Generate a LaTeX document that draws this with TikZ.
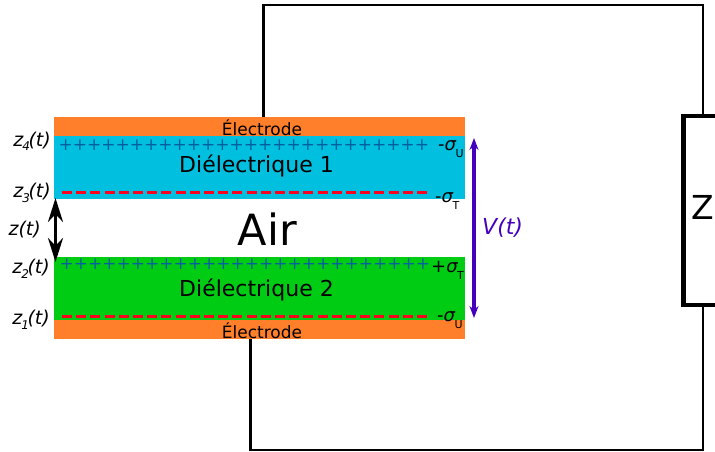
\documentclass[tikz,border=0pt]{standalone}
\usepackage{fontspec}
\setmainfont{DejaVu Sans}
\usetikzlibrary{arrows.meta}
\definecolor{orng}{HTML}{FF7F2A}
\definecolor{cyn}{HTML}{00BFDF}
\definecolor{grn}{HTML}{00CC14}
\definecolor{plusblue}{HTML}{005F9F}
\definecolor{dashred}{HTML}{FF0020}
\definecolor{purp}{HTML}{4400BB}
\tikzset{
  x=1pt,y=-1pt,
  layer/.style={minimum width=411pt,inner sep=0pt,outer sep=0pt,anchor=north west},
  wire/.style={line width=2.8pt,line join=miter},
  lbl/.style={inner sep=0pt,font=\fontsize{22}{22}\selectfont},
  elbl/.style={inner sep=0pt,font=\fontsize{17}{17}\selectfont},
  zlab/.style={inner sep=0pt,anchor=base east,font=\itshape\fontsize{19}{20}\selectfont},
  sig/.style={inner sep=0pt,anchor=base west,font=\fontsize{18}{18}\selectfont},
  plusrow/.style={inner sep=0pt,text=plusblue,font=\fontsize{17}{17}\selectfont},
  chargeline/.style={dashred,line width=3pt,dash pattern=on 10pt off 4.2pt},
  gaparrow/.style={line width=3pt,{Stealth[length=24pt,width=15pt]}-{Stealth[length=24pt,width=15pt]}},
  voltarrow/.style={purp,line width=3.4pt,{Stealth[length=12pt,width=9pt]}-{Stealth[length=12pt,width=9pt]}}
}
\newcommand{\sg}[2]{#1{\itshape σ}\kern-0.5pt\raisebox{-7.5pt}{\fontsize{11}{11}\selectfont #2}}
\newcommand{\zs}[1]{z\kern-1pt\raisebox{-5pt}{\fontsize{12}{12}\selectfont #1}\kern-1.5pt(t)}
\begin{document}
\begin{tikzpicture}
\useasboundingbox (0,0) rectangle (715,452);
\node[layer,fill=orng,minimum height=19pt] (etop) at (54,117) {};
\node[layer,fill=cyn,minimum height=63pt] (d1) at (54,136) {};
\node[layer,fill=grn,minimum height=63pt] (d2) at (54,257) {};
\node[layer,fill=orng,minimum height=19pt] (ebot) at (54,320) {};
\node[elbl] (te) at (262,128) {Électrode};
\node[elbl] (be) at (262,331) {Électrode};
\node[lbl] (t1) at (256.5,166) {Diélectrique 1};
\node[lbl] (t2) at (256.5,290) {Diélectrique 2};
\node[inner sep=0pt,font=\fontsize{43}{43}\selectfont] (air) at (267.5,229) {Air};
\node[plusrow,anchor=west] (p1) at (58.5,145) {++++++++++++++++++++++++++};
\node[plusrow,anchor=west] (p2) at (59.5,264) {++++++++++++++++++++++++++};
\coordinate (a1) at (62,192);\coordinate (a2) at (428,192);
\coordinate (b1) at (62,316);\coordinate (b2) at (428,316);
\draw[chargeline] (a1) -- (a2);
\draw[chargeline] (b1) -- (b2);
\node[zlab] (z4) at (51,146) {\zs{4}};
\node[zlab] (z3) at (51,197) {\zs{3}};
\node[zlab] (z) at (41,235) {z(t)};
\node[zlab] (z2) at (50,273) {\zs{2}};
\node[zlab] (z1) at (50,324) {\zs{1}};
\node[sig] (s1) at (438,150) {\sg{-}{U}};
\node[sig] (s2) at (435,202) {\sg{-}{T}};
\node[sig] (s3) at (431,272) {\sg{+}{T}};
\node[sig] (s4) at (437,321) {\sg{-}{U}};
\coordinate (ga) at (55.5,198);\coordinate (gb) at (55.5,262);
\draw[gaparrow] (ga) -- (gb);
\coordinate (va) at (474,138);\coordinate (vb) at (474,318);
\draw[voltarrow] (va) -- (vb);
\node[inner sep=0pt,anchor=west,text=purp,font=\itshape\fontsize{22}{22}\selectfont] (v) at (482,228) {V(t)};
\node[draw,line width=4.6pt,outer sep=0pt,minimum width=40pt,minimum height=189pt,inner sep=0pt,anchor=north west] (zb) at (683.5,116) {};
\node[inner sep=0pt,font=\fontsize{33}{33}\selectfont] (zt) at (703,207) {Z};
\coordinate (c1) at (263.5,5);\coordinate (c2) at (703,5);
\coordinate (c3) at (703,450);\coordinate (c4) at (250.3,450);
\draw[wire] (etop.north -| c1) -- (c1) -- (c2) -- (zb.north -| c2);
\draw[wire] (zb.south -| c3) -- (c3) -- (c4) -- (ebot.south -| c4);
\end{tikzpicture}
\end{document}
